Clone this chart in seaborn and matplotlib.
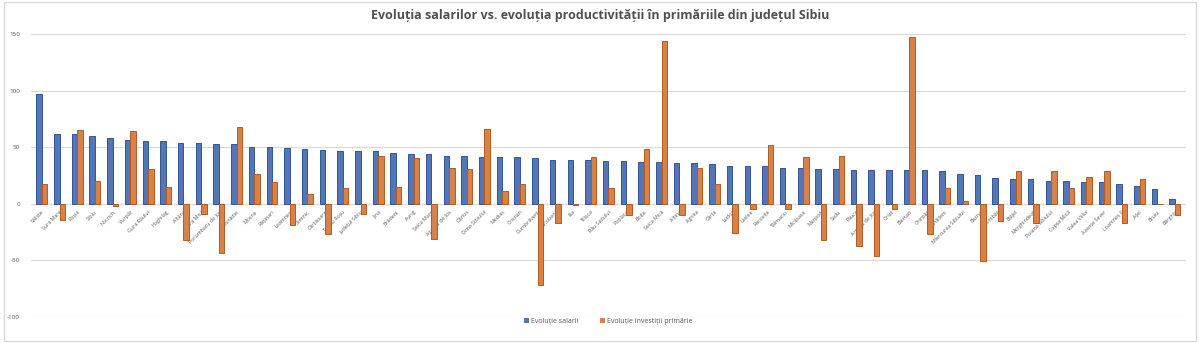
import matplotlib
matplotlib.use("Agg")
import matplotlib.pyplot as plt
import matplotlib.transforms as mtransforms
import seaborn as sns
import pandas as pd

categories = [
    "Săliște", "Șura Mare", "Roșia", "Sibiu", "Nocrich", "Vurpăr", "Gura Râului", "Hoghilag",
    "Alțâna", "Șura Mică", "Porumbacu de Jos", "Cisnădie", "Moșna", "Rășinari", "Loamneș", "Slimnic",
    "Cârțișoara", "Turnu Roșu", "Județul Sibiu", "Jina", "Brădeni", "Avrig", "Șeica Mare", "Apoldu de Jos",
    "Dârlos", "Ocna Sibiului", "Mediaș", "Cristian", "Dumbrăveni", "Iacobeni", "Ilia", "Tilișca",
    "Râu Sadului", "Poplaca", "Boița", "Șeica Mică", "Alțina", "Agnita", "Cârța", "Ludoș",
    "Laslea", "Racovița", "Tălmaciu", "Micăsasa", "Marpod", "Sadu", "Păuca", "Arpașu de Jos",
    "Orlat", "Biertan", "Chirpăr", "Mihăileni", "Miercurea Sibiului", "Bazna", "Șelimbăr", "Blăjel",
    "Merghindeal", "Poiana Sibiului", "Copșa Mică", "Valea Viilor", "Axente Sever", "Loamneș II", "Ațel", "Bruiu",
    "Bârghiș",
]
salarii = [
    97, 62, 62, 60, 58, 56, 55, 55,
    54, 54, 53, 53, 50, 50, 49, 48.5,
    47.6, 47, 46.5, 46.5, 45, 44, 44, 42.6,
    42, 41, 41, 41, 40, 39, 39, 39,
    38, 38, 37, 37, 36, 36, 35, 33.5,
    33, 33, 32, 32, 31, 31, 30, 30,
    30, 30, 29.5, 29, 26.5, 25, 23, 22,
    21.5, 20, 20, 19, 19, 17, 16, 13,
    4.5,
]
investitii = [
    17, -14, 65, 20, -2, 64, 31, 15,
    -32, -9, -43.5, 67.6, 26, 19, -19, 9,
    -27, 14, -9, 42, 15, 40, -31, 32,
    31, 66, 11.5, 17.6, -72, -17, -1.5, 41,
    14, -10, 48, 144, -10, 32, 17, -26,
    -5, 52, -5, 41, -32, 42, -37, -46,
    -5, 147, -27, 14, 2.5, -51, -15, 29,
    -17, 29, 14, 23.5, 29, -17, 22, -0.5,
    -10,
]
series = ["Evoluție salarii", "Evoluție investiții primărie"]

df = pd.concat([
    pd.DataFrame({"cat": categories, "val": salarii, "serie": series[0]}),
    pd.DataFrame({"cat": categories, "val": investitii, "serie": series[1]}),
])

sns.set_theme(style="white")
plt.rcParams["font.family"] = ["Open Sans", "DejaVu Sans"]
plt.rcParams["axes.unicode_minus"] = False

fig = plt.figure(figsize=(12, 3.43), dpi=100)
ax = fig.add_axes([0.026, 0.076, 0.962, 0.825])

sns.barplot(data=df, x="cat", y="val", hue="serie", order=categories,
            palette=["#4472C4", "#ED7D31"], width=0.62, gap=0.0,
            ax=ax, legend=True)

edge_cols = {0: "#2F5597", 1: "#B55A1E"}
for i, cont in enumerate(ax.containers):
    for p in cont.patches:
        p.set_edgecolor(edge_cols[i])
        p.set_linewidth(0.7)

ax.set_ylim(-100, 150)
ax.set_xlim(-0.6, len(categories) - 0.4)
ax.set_yticks([-100, -50, 0, 50, 100, 150])
ax.yaxis.grid(True, color="#D9D9D9", linewidth=0.8)
ax.set_axisbelow(True)
for s in ax.spines.values():
    s.set_visible(False)
ax.set_xlabel("")
ax.set_ylabel("")
ax.tick_params(axis="y", labelsize=4.5, colors="#595959", length=0, pad=8)
ax.tick_params(axis="x", length=0, pad=1)
ax.set_xticks(range(len(categories)))
ax.set_xticklabels(categories, rotation=45, ha="right", rotation_mode="anchor",
                   fontsize=3.8, color="#595959")
for lbl in ax.get_xticklabels():
    lbl.set_transform(mtransforms.blended_transform_factory(ax.transData, ax.transData)
                      + mtransforms.ScaledTranslation(0, -4 / 72, fig.dpi_scale_trans))
    lbl.set_y(0)

leg = ax.legend(loc="lower center", bbox_to_anchor=(0.5, -0.05), ncol=2, frameon=False,
                fontsize=5, handlelength=0.7, handleheight=0.7, columnspacing=3,
                handletextpad=0.4)
for t in leg.get_texts():
    t.set_color("#595959")
for h in leg.legend_handles:
    h.set_edgecolor("none")

fig.suptitle("Evoluția salarilor vs. evoluția productivității în primăriile din județul Sibiu",
             y=0.975, fontsize=9, fontweight="bold", color="#505050")

border = plt.Rectangle((0.003, 0.006), 0.994, 0.988, transform=fig.transFigure,
                       fill=False, edgecolor="#D9D9D9", linewidth=1)
fig.patches.append(border)

fig.savefig("out.png", dpi=100, facecolor="white")
